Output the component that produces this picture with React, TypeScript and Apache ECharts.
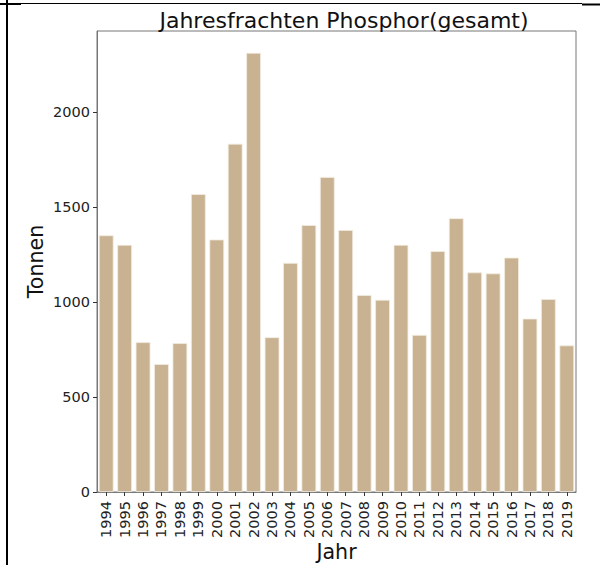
import React, { useEffect, useRef } from "react";
import * as echarts from "echarts";

const years = [
  "1994", "1995", "1996", "1997", "1998", "1999", "2000", "2001", "2002",
  "2003", "2004", "2005", "2006", "2007", "2008", "2009", "2010", "2011",
  "2012", "2013", "2014", "2015", "2016", "2017", "2018", "2019",
];
const tonnen = [
  1350, 1300, 788, 673, 783, 1567, 1328, 1832, 2310,
  814, 1205, 1404, 1657, 1378, 1036, 1011, 1300, 826,
  1267, 1440, 1155, 1150, 1233, 912, 1015, 771,
];
const yTickValues = [0, 500, 1000, 1500, 2000];
const yMax = 2425;

const FONT = "DejaVu Sans";

export default function App() {
  const ref = useRef<HTMLDivElement>(null);
  useEffect(() => {
    if (!ref.current) return;
    const chart = echarts.init(ref.current, null, { renderer: "svg" });
    chart.setOption({
      animation: false,
      backgroundColor: "#ffffff",
      textStyle: { fontFamily: FONT },
      title: {
        text: "Jahresfrachten Phosphor(gesamt)",
        left: 339,
        top: 4,
        textAlign: "center",
        textStyle: { fontFamily: FONT, fontSize: 22, fontWeight: "normal", color: "#111" },
      },
      grid: {
        left: 97,
        right: 24,
        top: 31,
        bottom: 73,
        show: true,
        borderColor: "#777",
        borderWidth: 1,
        backgroundColor: "transparent",
        containLabel: false,
        outerBoundsMode: "none",
      },
      xAxis: {
        type: "category",
        data: years,
        name: "Jahr",
        nameLocation: "middle",
        nameGap: 49,
        nameMoveOverlap: false,
        nameTextStyle: { fontFamily: FONT, fontSize: 20.6, color: "#111" },
        axisLine: { show: true, lineStyle: { color: "#777", width: 1 } },
        axisTick: { show: true, alignWithLabel: true, length: 4, lineStyle: { color: "#333" } },
        axisLabel: { rotate: 90, fontSize: 14.5, color: "#222", margin: 9, fontFamily: FONT, interval: 0 },
      },
      yAxis: {
        type: "value",
        min: 0,
        max: yMax,
        name: "Tonnen",
        nameLocation: "middle",
        nameGap: 51,
        nameMoveOverlap: false,
        nameTextStyle: { fontFamily: FONT, fontSize: 20.6, color: "#111" },
        axisLine: { show: true, lineStyle: { color: "#777", width: 1 } },
        axisTick: { show: true, length: 4, lineStyle: { color: "#333" }, customValues: yTickValues },
        axisLabel: {
          fontSize: 14.5,
          color: "#222",
          margin: 7,
          fontFamily: FONT,
          customValues: yTickValues,
          formatter: (v: number) => String(v),
        },
        splitLine: { show: false },
      },
      series: [
        {
          type: "bar",
          data: tonnen,
          barCategoryGap: "20%",
          itemStyle: { color: "#c8b292", borderColor: "#f3ece1", borderWidth: 0.8 },
        },
      ],
      graphic: [
        { type: "line", shape: { x1: 7, y1: 0, x2: 7, y2: 565 }, style: { stroke: "#000", lineWidth: 2 } },
        { type: "line", shape: { x1: 0, y1: 4, x2: 21, y2: 4 }, style: { stroke: "#000", lineWidth: 2 } },
        { type: "line", shape: { x1: 21, y1: 3.5, x2: 582, y2: 3.5 }, style: { stroke: "#000", lineWidth: 1 } },
        { type: "line", shape: { x1: 582, y1: 4.5, x2: 600, y2: 4.5 }, style: { stroke: "#000", lineWidth: 2 } },
      ],
    });
    return () => chart.dispose();
  }, []);
  return (
    <div
      ref={ref}
      style={{ position: "fixed", left: 0, top: 0, width: 600, height: 565, background: "#fff" }}
    />
  );
}
